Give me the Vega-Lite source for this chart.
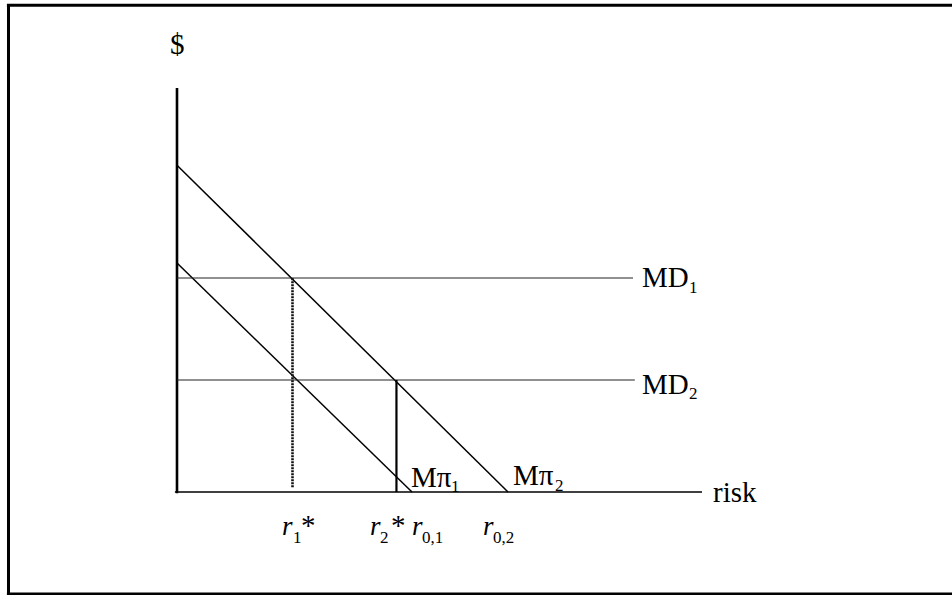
{
  "$schema": "https://vega.github.io/schema/vega-lite/v6.json",
  "width": 952,
  "height": 595,
  "padding": 0,
  "autosize": {"type": "none"},
  "background": "white",
  "config": {"view": {"stroke": null}, "axis": {"disable": true}},
  "datasets": {
    "frame": [
      {"x": -32.095, "y": -25.25, "x2": -32.095, "y2": 120.47},
      {"x": -32.4, "y": 120.47, "x2": 150, "y2": 120.47},
      {"x": -32.4, "y": -25.25, "x2": 150, "y2": -25.25}
    ],
    "yaxis": [{"x": 0, "y": -0.3, "x2": 0, "y2": 100}],
    "xaxis": [{"x": -0.4, "y": 0, "x2": 100, "y2": 0}],
    "mpi": [
      {"x": 0, "y": 80.9, "x2": 63.05, "y2": 0},
      {"x": 0, "y": 56.68, "x2": 44.76, "y2": 0}
    ],
    "md": [
      {"x": 0, "y": 52.97, "x2": 86.86, "y2": 52.97},
      {"x": 0, "y": 27.72, "x2": 87.2, "y2": 27.72}
    ],
    "solidv": [{"x": 41.8, "y": 0, "x2": 41.8, "y2": 27.72}],
    "dottedv": [{"x": 22.0, "y": 1.2, "x2": 22.0, "y2": 52.97}],
    "mainlabels": [
      {"x": -1.33, "y": 108.42, "text": "$"},
      {"x": 88.57, "y": 50.74, "text": "MD"},
      {"x": 88.57, "y": 24.26, "text": "MD"},
      {"x": 102.1, "y": -2.48, "text": "risk"},
      {"x": 44.57, "y": 1.24, "text": "Mπ"},
      {"x": 64.0, "y": 1.73, "text": "Mπ"},
      {"x": 23.62, "y": -10.64, "text": "*"},
      {"x": 40.76, "y": -10.64, "text": "*"}
    ],
    "rlabels": [
      {"x": 20.0, "y": -10.64, "text": "r"},
      {"x": 36.76, "y": -10.64, "text": "r"},
      {"x": 44.76, "y": -10.64, "text": "r"},
      {"x": 58.29, "y": -10.64, "text": "r"}
    ],
    "sublabels": [
      {"x": 97.52, "y": 49.26, "text": "1"},
      {"x": 97.52, "y": 23.02, "text": "2"},
      {"x": 52.19, "y": 0.0, "text": "1"},
      {"x": 72.0, "y": 0.25, "text": "2"},
      {"x": 22.1, "y": -12.62, "text": "1"},
      {"x": 38.67, "y": -12.62, "text": "2"},
      {"x": 46.67, "y": -12.62, "text": "0,1"},
      {"x": 60.19, "y": -12.62, "text": "0,2"}
    ]
  },
  "layer": [
    {
      "data": {"name": "frame"},
      "mark": {"type": "rule", "stroke": "black", "strokeWidth": 3},
      "encoding": {
        "x": {"field": "x", "type": "quantitative", "scale": {"domain": [-33.714, 147.619], "nice": false, "zero": false}},
        "y": {"field": "y", "type": "quantitative", "scale": {"domain": [-25.495, 121.782], "nice": false, "zero": false}},
        "x2": {"field": "x2"},
        "y2": {"field": "y2"}
      }
    },
    {
      "data": {"name": "yaxis"},
      "mark": {"type": "rule", "stroke": "black", "strokeWidth": 2.6},
      "encoding": {
        "x": {"field": "x", "type": "quantitative"},
        "y": {"field": "y", "type": "quantitative"},
        "x2": {"field": "x2"},
        "y2": {"field": "y2"}
      }
    },
    {
      "data": {"name": "xaxis"},
      "mark": {"type": "rule", "stroke": "black", "strokeWidth": 1.5},
      "encoding": {
        "x": {"field": "x", "type": "quantitative"},
        "y": {"field": "y", "type": "quantitative"},
        "x2": {"field": "x2"},
        "y2": {"field": "y2"}
      }
    },
    {
      "data": {"name": "mpi"},
      "mark": {"type": "rule", "stroke": "black", "strokeWidth": 1.5},
      "encoding": {
        "x": {"field": "x", "type": "quantitative"},
        "y": {"field": "y", "type": "quantitative"},
        "x2": {"field": "x2"},
        "y2": {"field": "y2"}
      }
    },
    {
      "data": {"name": "md"},
      "mark": {"type": "rule", "stroke": "#222222", "strokeWidth": 1.2},
      "encoding": {
        "x": {"field": "x", "type": "quantitative"},
        "y": {"field": "y", "type": "quantitative"},
        "x2": {"field": "x2"},
        "y2": {"field": "y2"}
      }
    },
    {
      "data": {"name": "solidv"},
      "mark": {"type": "rule", "stroke": "black", "strokeWidth": 2.2},
      "encoding": {
        "x": {"field": "x", "type": "quantitative"},
        "y": {"field": "y", "type": "quantitative"},
        "x2": {"field": "x2"},
        "y2": {"field": "y2"}
      }
    },
    {
      "data": {"name": "dottedv"},
      "mark": {"type": "rule", "stroke": "#111111", "strokeWidth": 2.6, "strokeDash": [2, 1]},
      "encoding": {
        "x": {"field": "x", "type": "quantitative"},
        "y": {"field": "y", "type": "quantitative"},
        "x2": {"field": "x2"},
        "y2": {"field": "y2"}
      }
    },
    {
      "data": {"name": "mainlabels"},
      "mark": {"type": "text", "font": "Liberation Serif", "fontSize": 29, "align": "left", "baseline": "alphabetic", "color": "black"},
      "encoding": {
        "x": {"field": "x", "type": "quantitative"},
        "y": {"field": "y", "type": "quantitative"},
        "text": {"field": "text"}
      }
    },
    {
      "data": {"name": "rlabels"},
      "mark": {"type": "text", "font": "Liberation Serif", "fontSize": 27, "fontStyle": "italic", "align": "left", "baseline": "alphabetic", "color": "black"},
      "encoding": {
        "x": {"field": "x", "type": "quantitative"},
        "y": {"field": "y", "type": "quantitative"},
        "text": {"field": "text"}
      }
    },
    {
      "data": {"name": "sublabels"},
      "mark": {"type": "text", "font": "Liberation Serif", "fontSize": 17, "align": "left", "baseline": "alphabetic", "color": "black"},
      "encoding": {
        "x": {"field": "x", "type": "quantitative"},
        "y": {"field": "y", "type": "quantitative"},
        "text": {"field": "text"}
      }
    }
  ]
}
